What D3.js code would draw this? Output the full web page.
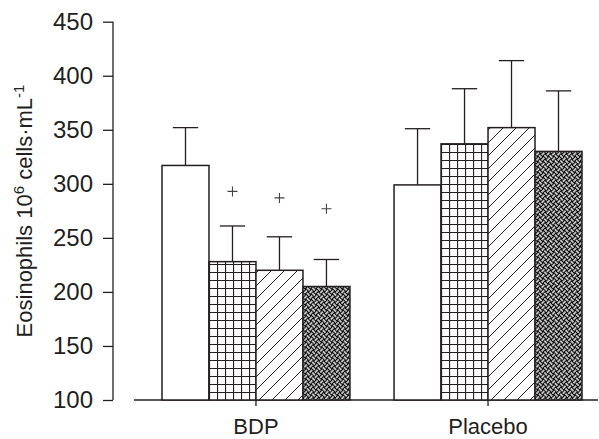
<!DOCTYPE html>
<html>
<head>
    <meta charset="utf-8" />
    <title>Eosinophils</title>
    <script src="https://d3js.org/d3.v7.min.js"></script>
    <style>
        body { margin: 0; background: #fff; }
        text { font-family: "Liberation Sans Narrow", "Arial Narrow", "Liberation Sans", sans-serif; fill: #231f20; }
    </style>
</head>
<body>
<svg width="599" height="439"></svg>
<script>
// data
var groups = ["BDP", "Placebo"];
var seriesKeys = ["a", "b", "c", "d"];
var meanBDP = [317, 228, 220, 205];
var meanPlacebo = [299, 337, 352, 330];
var errBDP = [35, 33, 31, 25];
var errPlacebo = [52, 51, 62, 56];
var plusBDP = [null, 293, 287, 277];
var plusPlacebo = [null, null, null, null];
var yTicks = [100, 150, 200, 250, 300, 350, 400, 450];

var ink = "#231f20";
var svg = d3.select("svg");

var data = [];
groups.forEach(function (g, gi) {
    var m = gi === 0 ? meanBDP : meanPlacebo;
    var e = gi === 0 ? errBDP : errPlacebo;
    var p = gi === 0 ? plusBDP : plusPlacebo;
    seriesKeys.forEach(function (k, i) {
        data.push({ group: g, key: k, value: m[i], err: e[i], plus: p[i] });
    });
});

// patterns
var defs = svg.append("defs");

var grid = defs.append("pattern").attr("id", "grid")
    .attr("patternUnits", "userSpaceOnUse").attr("width", 8).attr("height", 8);
grid.append("rect").attr("width", 8).attr("height", 8).attr("fill", "#fff");
grid.append("path").attr("d", "M0.5,0V8M0,0.5H8")
    .attr("stroke", ink).attr("stroke-width", 1.2).attr("fill", "none");

var diag = defs.append("pattern").attr("id", "diag")
    .attr("patternUnits", "userSpaceOnUse").attr("width", 13).attr("height", 13);
diag.append("rect").attr("width", 13).attr("height", 13).attr("fill", "#fff");
diag.append("path").attr("d", "M-1,1L1,-1M0,13L13,0M12,14L14,12")
    .attr("stroke", ink).attr("stroke-width", 1).attr("fill", "none");

// basket weave, drawn square and turned 45 degrees
var weave = defs.append("pattern").attr("id", "weave")
    .attr("patternUnits", "userSpaceOnUse").attr("width", 7.5).attr("height", 7.5)
    .attr("patternTransform", "rotate(45)");
weave.append("rect").attr("width", 7.5).attr("height", 7.5).attr("fill", "#0d0d0d");
weave.append("path").attr("d", "M0,1.9H3.75M3.75,5.6H7.5M5.6,0V3.75M1.9,3.75V7.5")
    .attr("stroke", "#fff").attr("stroke-width", 1.4).attr("fill", "none");

var fills = { a: "#fff", b: "url(#grid)", c: "url(#diag)", d: "url(#weave)" };

// scales
var y = d3.scaleLinear().domain([100, 450]).range([400, 21.7]);
var x0 = d3.scaleBand().domain(groups).range([162, 582]).paddingInner(0.19).paddingOuter(0);
var x1 = d3.scaleBand().domain(seriesKeys).range([0, x0.bandwidth()]).padding(0);

// y axis
var yAxisG = svg.append("g").attr("transform", "translate(113,0)")
    .call(d3.axisLeft(y).tickValues(yTicks).tickSize(10).tickPadding(10));
yAxisG.attr("font-family", null);
yAxisG.select(".domain").attr("stroke", ink).attr("stroke-width", 1.3).attr("d", "M0," + y(450) + "V" + y(100));
yAxisG.selectAll(".tick line").attr("stroke", ink).attr("stroke-width", 1.3);
yAxisG.selectAll(".tick text").attr("font-size", 24);

// x axis
var xAxisG = svg.append("g").attr("transform", "translate(0,400)")
    .call(d3.axisBottom(x0).tickSize(6).tickPadding(12));
xAxisG.select(".domain").remove();
xAxisG.attr("font-family", null);
xAxisG.selectAll(".tick line").attr("stroke", ink).attr("stroke-width", 1.3);
xAxisG.selectAll(".tick text").attr("font-size", 22);
xAxisG.append("line").attr("x1", 134).attr("x2", 598).attr("y1", 0).attr("y2", 0)
    .attr("stroke", ink).attr("stroke-width", 1.3);

// bars
var bars = svg.append("g").selectAll("g.bar").data(data).enter().append("g").attr("class", "bar")
    .attr("transform", function (d) { return "translate(" + (x0(d.group) + x1(d.key)) + ",0)"; });

var bw = x1.bandwidth();
var cap = bw * 0.27;

bars.append("line")
    .attr("x1", bw / 2).attr("x2", bw / 2)
    .attr("y1", function (d) { return y(d.value); })
    .attr("y2", function (d) { return y(d.value + d.err); })
    .attr("stroke", ink).attr("stroke-width", 1.3);
bars.append("line")
    .attr("x1", bw / 2 - cap).attr("x2", bw / 2 + cap)
    .attr("y1", function (d) { return y(d.value + d.err); })
    .attr("y2", function (d) { return y(d.value + d.err); })
    .attr("stroke", ink).attr("stroke-width", 1.3);

bars.append("rect")
    .attr("x", 0).attr("width", bw)
    .attr("y", function (d) { return y(d.value); })
    .attr("height", function (d) { return y(100) - y(d.value); })
    .attr("fill", function (d) { return fills[d.key]; })
    .attr("stroke", ink).attr("stroke-width", 1.5);

// significance marks
bars.filter(function (d) { return d.plus != null; }).append("path")
    .attr("d", function (d) {
        var cx = bw / 2, cy = y(d.plus);
        return "M" + (cx - 5) + "," + cy + "H" + (cx + 5) + "M" + cx + "," + (cy - 5) + "V" + (cy + 5);
    })
    .attr("stroke", "#444").attr("stroke-width", 1.1);

// y label
svg.append("text")
    .attr("transform", "translate(32,211) rotate(-90)")
    .attr("text-anchor", "middle")
    .attr("font-size", 22)
    .html('Eosinophils 10<tspan dy="-8" font-size="15">6</tspan><tspan dy="8"> cells·mL</tspan><tspan dy="-8" font-size="15">-1</tspan>');
</script>
</body>
</html>
